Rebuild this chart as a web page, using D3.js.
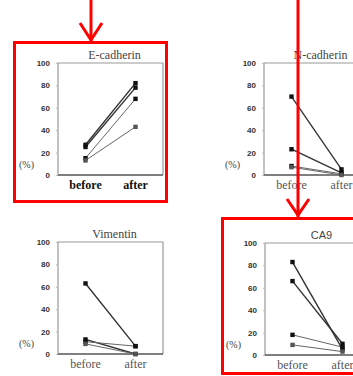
<!DOCTYPE html>
<html>
<head>
<meta charset="utf-8">
<script src="https://cdn.jsdelivr.net/npm/d3@7"></script>
<style>
  body { margin: 0; background: #fff; }
  svg { display: block; }
  .serif { font-family: 'Liberation Serif', 'DejaVu Serif', 'Times New Roman', serif; }
  .sans { font-family: 'Liberation Sans', 'DejaVu Sans', Arial, sans-serif; }
</style>
</head>
<body>
<svg id="chart"></svg>
<script>
var width = 353
var height = 376

// values (%), one entry per patient
var stages = ["before", "after"]
var yTicks = [0, 20, 40, 60, 80, 100]

var titles = ["E-cadherin", "N-cadherin", "Vimentin", "CA9"]

var ecadBefore = [27, 25, 15, 13]
var ecadAfter = [82, 78, 68, 43]

var ncadBefore = [70, 23, 8, 7]
var ncadAfter = [5, 2, 1, 0]

var vimBefore = [63, 13, 11, 9]
var vimAfter = [7, 0, 7, 0]

var ca9Before = [83, 66, 18, 9]
var ca9After = [5, 10, 7, 3]

var svg = d3.select("#chart")
  .attr("width", width)
  .attr("height", height)

// frame position of each panel
var panels = [
  {title: titles[0], before: ecadBefore, after: ecadAfter, x0: 58, y0: 63, boldX: true},
  {title: titles[1], before: ncadBefore, after: ncadAfter, x0: 264, y0: 63},
  {title: titles[2], before: vimBefore, after: vimAfter, x0: 58, y0: 242},
  {title: titles[3], before: ca9Before, after: ca9After, x0: 265, y0: 243, sans: true}
]

var panelW = 105
var panelH = 112

function drawPanel(p) {
  var g = svg.append("g")

  var x = d3.scalePoint().domain(stages).range([p.x0, p.x0 + panelW]).padding(0.55)
  var y = d3.scaleLinear().domain([0, 100]).range([p.y0 + panelH, p.y0])

  // frame: grey left/top/right, dark bottom
  g.append("path")
    .attr("d", "M" + p.x0 + "," + y(0) + "V" + y(100) + "H" + (p.x0 + panelW) + "V" + y(0))
    .attr("fill", "none")
    .attr("stroke", "#999")
    .attr("stroke-width", 1.2)
  g.append("line")
    .attr("x1", p.x0).attr("x2", p.x0 + panelW)
    .attr("y1", y(0)).attr("y2", y(0))
    .attr("stroke", "#555")
    .attr("stroke-width", 1.5)

  var yAxis = g.append("g")
    .attr("transform", "translate(" + p.x0 + ",0)")
    .call(d3.axisLeft(y).tickValues(yTicks).tickSize(2).tickPadding(6))
  yAxis.attr("font-family", null).attr("font-size", null).attr("class", "sans")
  yAxis.select(".domain").remove()
  yAxis.selectAll("line").attr("stroke", "#bbb")
  yAxis.selectAll("text")
    .attr("font-size", 8)
    .attr("font-weight", "bold")
    .attr("fill", "#333")

  g.append("text")
    .attr("class", "serif")
    .attr("x", p.x0 - 39)
    .attr("y", y(0) - 7)
    .attr("font-size", 10)
    .attr("fill", "#444")
    .text("(%)")

  g.append("text")
    .attr("class", p.sans ? "sans" : "serif")
    .attr("x", p.x0 + panelW / 2 + 4)
    .attr("y", p.y0 - 4)
    .attr("text-anchor", "middle")
    .attr("font-size", p.sans ? 11 : 12)
    .attr("fill", "#444")
    .text(p.title)

  g.selectAll(".stage")
    .data(stages)
    .enter()
    .append("text")
    .attr("class", "serif")
    .attr("x", d => x(d))
    .attr("y", y(0) + 14)
    .attr("text-anchor", "middle")
    .attr("font-size", 12)
    .attr("font-weight", p.boldX ? "bold" : "normal")
    .attr("fill", p.boldX ? "#111" : "#555")
    .text(d => d)

  var pairs = p.before.map((b, i) => [b, p.after[i]])

  g.selectAll(".pair")
    .data(pairs)
    .enter()
    .append("line")
    .attr("x1", x("before")).attr("x2", x("after"))
    .attr("y1", d => y(d[0])).attr("y2", d => y(d[1]))
    .attr("stroke", (d, i) => i < 2 ? "#333" : "#666")
    .attr("stroke-width", (d, i) => i < 2 ? 1.4 : 1)

  var pts = []
  pairs.forEach(function(d, i) {
    pts.push({s: "before", v: d[0], i: i})
    pts.push({s: "after", v: d[1], i: i})
  })
  g.selectAll(".pt")
    .data(pts)
    .enter()
    .append("rect")
    .attr("x", d => x(d.s) - 2.2)
    .attr("y", d => y(d.v) - 2.2)
    .attr("width", 4.4)
    .attr("height", 4.4)
    .attr("fill", d => d.i < 3 ? "#111" : "#555")
}

panels.forEach(drawPanel)

// red highlight boxes and arrows
var red = "#f00"
svg.append("rect")
  .attr("x", 14.5).attr("y", 42.5)
  .attr("width", 152).attr("height", 159)
  .attr("fill", "none").attr("stroke", red).attr("stroke-width", 3)
svg.append("rect")
  .attr("x", 222.5).attr("y", 218.5)
  .attr("width", 140).attr("height", 155)
  .attr("fill", "none").attr("stroke", red).attr("stroke-width", 3)

svg.append("line")
  .attr("x1", 91).attr("x2", 91).attr("y1", 0).attr("y2", 41)
  .attr("stroke", red).attr("stroke-width", 3)
svg.append("path")
  .attr("d", "M80,23L91,40L102,23")
  .attr("fill", "none").attr("stroke", red).attr("stroke-width", 3)

svg.append("line")
  .attr("x1", 298).attr("x2", 298).attr("y1", 0).attr("y2", 217)
  .attr("stroke", red).attr("stroke-width", 3)
svg.append("path")
  .attr("d", "M287,199L298,215L309,199")
  .attr("fill", "none").attr("stroke", red).attr("stroke-width", 3)
</script>
</body>
</html>
